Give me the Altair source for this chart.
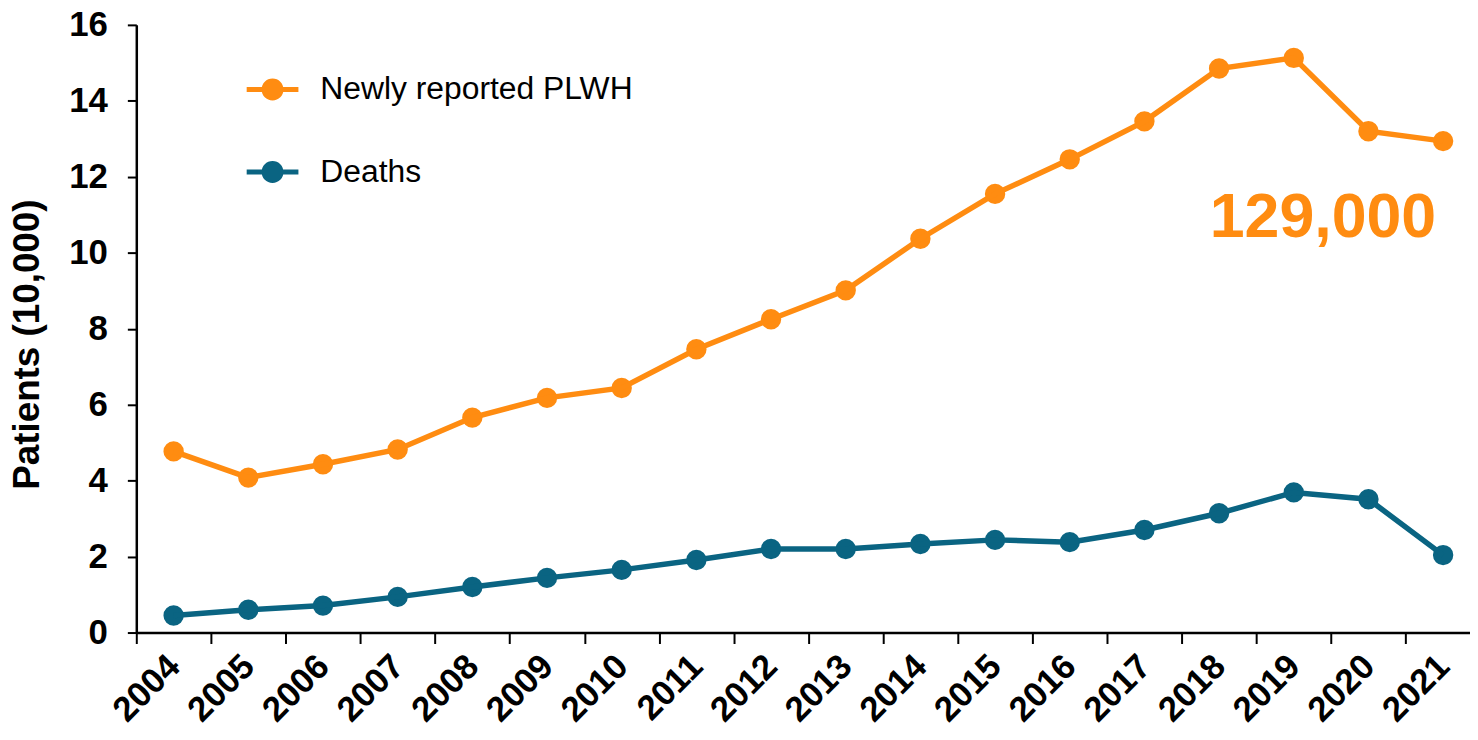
import altair as alt
import pandas as pd

years = list(range(2004, 2022))
plwh = [4.77, 4.08, 4.43, 4.82, 5.66, 6.18, 6.44, 7.46, 8.25, 9.01,
        10.37, 11.55, 12.46, 13.46, 14.85, 15.13, 13.20, 12.94]
deaths = [0.45, 0.60, 0.71, 0.94, 1.20, 1.44, 1.65, 1.91, 2.20, 2.20,
          2.33, 2.44, 2.38, 2.70, 3.14, 3.69, 3.51, 2.04]
series_names = ["Newly reported PLWH", "Deaths"]
series_colors = ["#FF8C11", "#0A6482"]
y_ticks = [0, 2, 4, 6, 8, 10, 12, 14, 16]
x_tick_edges = [y - 0.5 for y in years]          # ticks sit between the years
x_domain = [2003.5, 2021.36]                     # the last year's slot runs off the right edge
annotation_year = [2021]
annotation_value = [10.42]
annotation_text = ["129,000"]

rows = []
for i, yr in enumerate(years):
    rows.append({"year": yr, "value": plwh[i], "series": series_names[0]})
    rows.append({"year": yr, "value": deaths[i], "series": series_names[1]})
df = pd.DataFrame(rows)
ann = pd.DataFrame({"year": annotation_year, "value": annotation_value, "label": annotation_text})

FONT = "Liberation Sans"
LEGEND_PATH = ("M -2.5 -0.24 L 2.5 -0.24 L 2.5 0.24 L -2.5 0.24 Z "
               "M -1.06 0 A 1.06 1.06 0 1 1 1.06 0 A 1.06 1.06 0 1 1 -1.06 0 Z")

PLOT_W = 1341
STEP = PLOT_W / (x_domain[1] - x_domain[0])

x_scale = alt.Scale(domain=x_domain, nice=False, zero=False)
y_scale = alt.Scale(domain=[0, 16], nice=False)

x_enc = alt.X(
    "year:Q", scale=x_scale,
    axis=alt.Axis(
        title=None, values=x_tick_edges, labelExpr="format(datum.value + 0.5, 'd')",
        labelOffset=STEP / 2, labelAngle=-45, labelAlign="right", labelBaseline="middle",
        labelFontSize=35, labelFontWeight="bold", labelFont=FONT, labelColor="black",
        labelPadding=17, labelOverlap=False, labelFlush=False, tickSize=11,
        tickWidth=2, tickColor="black", domainColor="black", domainWidth=2.5, grid=False,
    ),
)
y_enc = alt.Y(
    "value:Q", scale=y_scale,
    axis=alt.Axis(
        title="Patients (10,000)", values=y_ticks, titleFontSize=37, titleFontWeight="bold",
        titleFont=FONT, titleColor="black", titlePadding=22, titleY=321,
        labelFontSize=35, labelFontWeight="bold", labelFont=FONT, labelColor="black",
        labelPadding=20, tickSize=9, tickWidth=2, tickColor="black",
        domainColor="black", domainWidth=2.5, grid=False,
    ),
)

color_scale = alt.Scale(domain=series_names, range=series_colors)
legend = alt.Legend(
    title=None, orient="none", legendX=121, legendY=49, direction="vertical",
    symbolType=LEGEND_PATH, symbolSize=433, symbolStrokeWidth=0, symbolOpacity=1,
    labelFontSize=32, labelFont=FONT, labelColor="black", labelOffset=32,
    labelLimit=0, rowPadding=51, padding=0,
)

points = alt.Chart(df).mark_circle(size=420, opacity=1).encode(
    x=x_enc, y=y_enc,
    color=alt.Color("series:N", scale=color_scale, legend=legend),
)
lines = alt.Chart(df).mark_line(strokeWidth=5.5).encode(
    x=x_enc, y=y_enc,
    color=alt.Color("series:N", scale=color_scale, legend=legend),
)
text = alt.Chart(ann).mark_text(
    align="right", baseline="alphabetic", dx=-7, fontSize=63, fontWeight="bold",
    font=FONT, color=series_colors[0],
).encode(x=alt.X("year:Q", scale=x_scale), y=alt.Y("value:Q", scale=y_scale), text="label:N")

chart = alt.layer(points, lines, text).properties(
    width=PLOT_W, height=611,
    autosize=alt.AutoSizeParams(type="none"),
    padding={"left": 129, "top": 15, "right": 0, "bottom": 93},
).configure_view(stroke=None)

chart.save("out.html", embed_options={"renderer": "svg", "actions": False})
